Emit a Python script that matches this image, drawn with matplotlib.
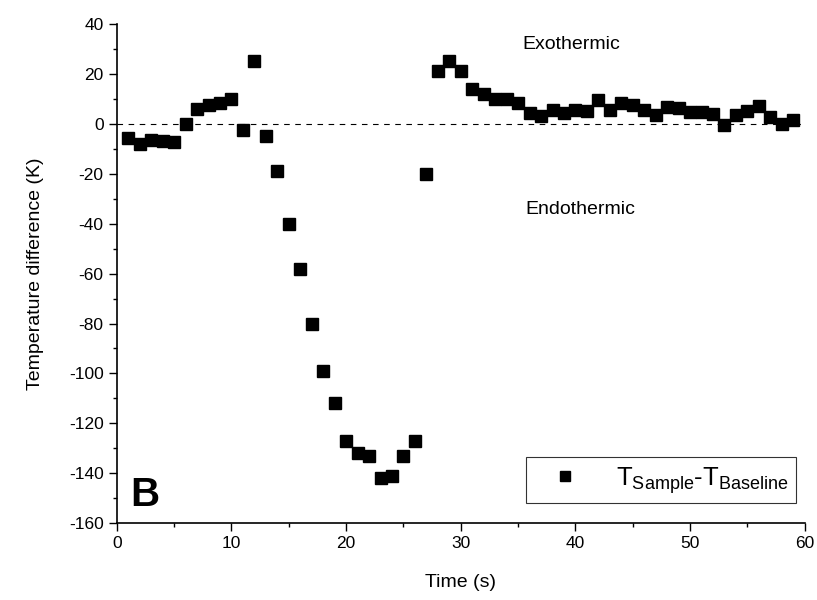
import matplotlib
matplotlib.use("Agg")
import matplotlib.pyplot as plt
from matplotlib.ticker import MultipleLocator

plt.rcParams['font.family'] = ['Liberation Sans', 'DejaVu Sans']
plt.rcParams['mathtext.fontset'] = 'custom'
plt.rcParams['mathtext.rm'] = 'Liberation Sans'
plt.rcParams['axes.unicode_minus'] = False

time_s = list(range(1, 60))
temp_diff = [-5.5, -8, -6.5, -7, -7.2, 0, 6, 7.5, 8.5, 10,
             -2.5, 25, -5, -19, -40, -58, -80, -99, -112, -127,
             -132, -133, -142, -141, -133, -127, -20, 21, 25, 21,
             14, 12, 10, 10, 8.5, 4.5, 3.2, 5.6, 4.5, 5.6,
             5.2, 9.7, 5.6, 8.3, 7.5, 5.6, 3.4, 6.6, 6.4, 4.8,
             4.8, 3.8, -0.5, 3.6, 5.2, 7, 2.8, -0.2, 1.5]

fig = plt.figure(figsize=(8.17, 6.0), dpi=100)
ax = fig.add_axes([0.143, 0.128, 0.842, 0.832])

ax.axhline(0, color='black', lw=0.8, ls=(0, (5, 5)), zorder=1)
ax.plot(time_s, temp_diff, ls='none', marker='s', ms=8.5, color='black',
        label=r'T$_{\mathregular{Sample}}$-T$_{\mathregular{Baseline}}$', zorder=3)

ax.set_xlim(0, 60)
ax.set_ylim(-160, 40)
ax.xaxis.set_major_locator(MultipleLocator(10))
ax.xaxis.set_minor_locator(MultipleLocator(5))
ax.yaxis.set_major_locator(MultipleLocator(20))
ax.yaxis.set_minor_locator(MultipleLocator(10))
ax.tick_params(which='major', direction='out', length=6, width=1, labelsize=12.5, colors='black')
ax.tick_params(which='minor', direction='out', length=3, width=1)
ax.spines['top'].set_visible(False)
ax.spines['right'].set_visible(False)
for s in ('left', 'bottom'):
    ax.spines[s].set_linewidth(1.2)

ax.set_xlabel('Time (s)', fontsize=14, labelpad=16)
ax.set_ylabel('Temperature difference (K)', fontsize=14, labelpad=18)

ax.text(35.4, 31.8, 'Exothermic', fontsize=14, ha='left', va='center')
ax.text(35.6, -34.3, 'Endothermic', fontsize=14, ha='left', va='center')
ax.text(0.02, 0.035, 'B', transform=ax.transAxes, fontsize=29, fontweight='bold',
        ha='left', va='baseline')

leg = ax.legend(loc='lower right', bbox_to_anchor=(0.988, 0.04), borderaxespad=0,
                fontsize=18.5, frameon=True, fancybox=False, edgecolor='black',
                borderpad=0.3, handletextpad=0.8, markerscale=0.85, handlelength=2.4)
leg.get_frame().set_linewidth(0.8)

fig.savefig('out.png', dpi=100)
